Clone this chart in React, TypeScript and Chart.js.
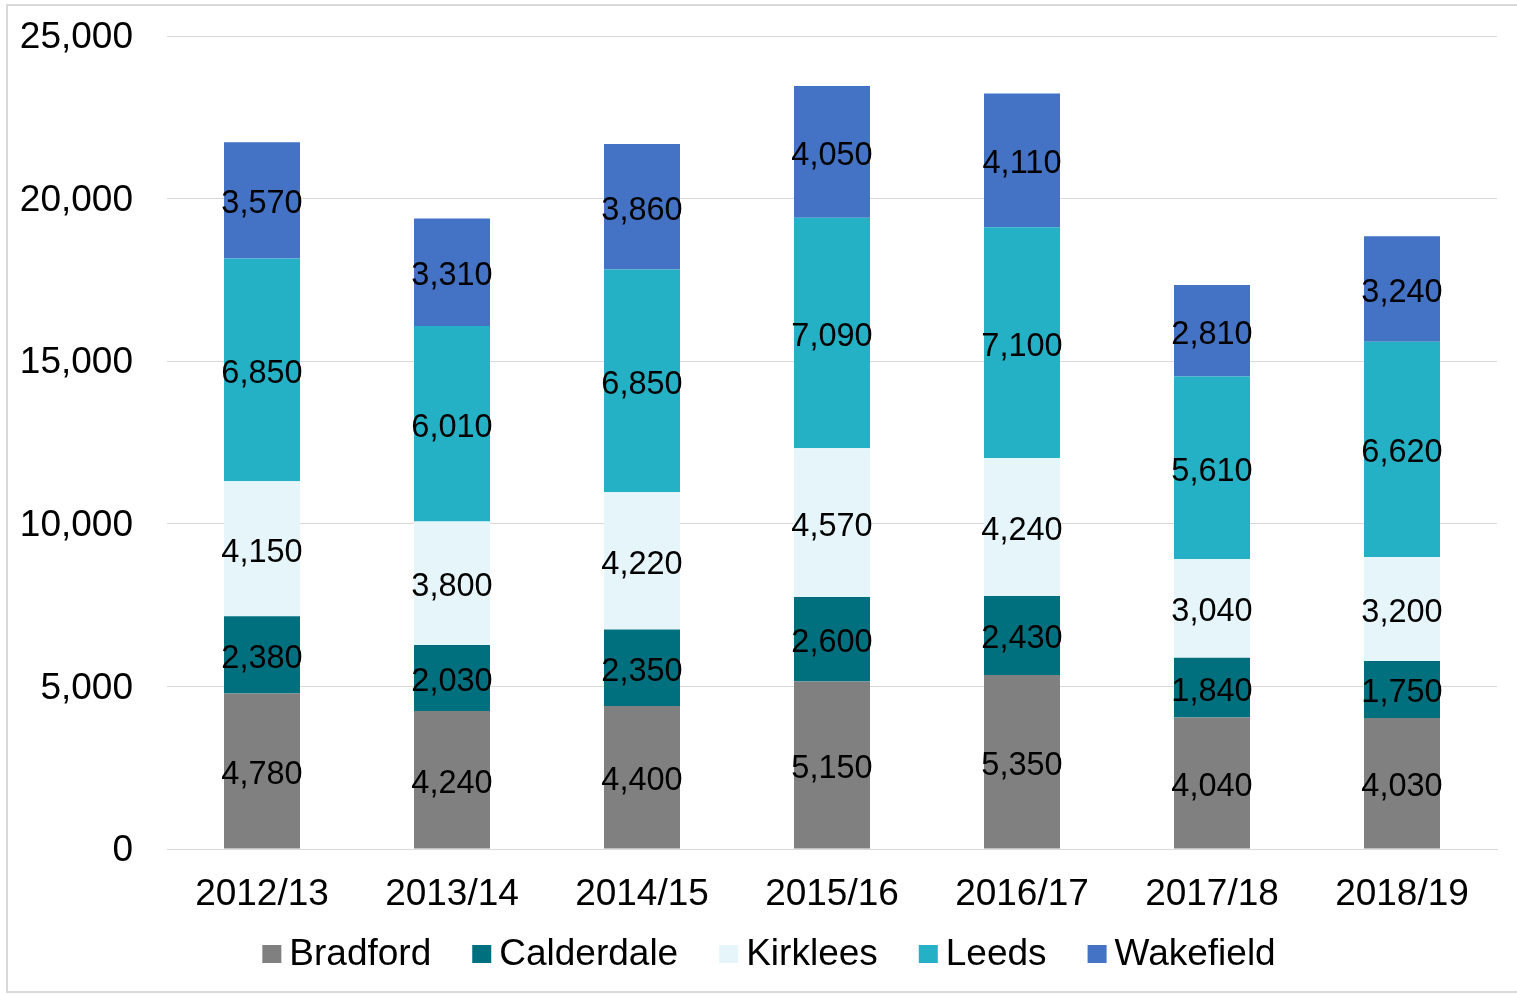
import React, { useEffect, useRef } from "react";
import { Chart, registerables } from "chart.js";

Chart.register(...registerables);

const categories = ["2012/13", "2013/14", "2014/15", "2015/16", "2016/17", "2017/18", "2018/19"];
const bradford = [4780, 4240, 4400, 5150, 5350, 4040, 4030];
const calderdale = [2380, 2030, 2350, 2600, 2430, 1840, 1750];
const kirklees = [4150, 3800, 4220, 4570, 4240, 3040, 3200];
const leeds = [6850, 6010, 6850, 7090, 7100, 5610, 6620];
const wakefield = [3570, 3310, 3860, 4050, 4110, 2810, 3240];
const seriesNames = ["Bradford", "Calderdale", "Kirklees", "Leeds", "Wakefield"];
const seriesColors = ["#808080", "#00707F", "#E6F5F9", "#24B1C5", "#4472C4"];
const yTicks = [0, 5000, 10000, 15000, 20000, 25000];

const FONT = "'Liberation Sans', Arial, sans-serif";

const fmt = (v: number) => v.toLocaleString("en-US");

const labelsPlugin = {
  id: "segLabels",
  afterDatasetsDraw(chart: any) {
    const ctx = chart.ctx;
    ctx.save();
    ctx.font = `32.5px ${FONT}`;
    ctx.fillStyle = "#000";
    ctx.textAlign = "center";
    ctx.textBaseline = "middle";
    chart.data.datasets.forEach((ds: any, di: number) => {
      const meta = chart.getDatasetMeta(di);
      meta.data.forEach((bar: any, i: number) => {
        const y = (bar.y + bar.base) / 2;
        ctx.fillText(fmt(ds.data[i]), bar.x, y + 4);
      });
    });
    ctx.restore();
  },
};

const frameLegendPlugin = {
  id: "frameLegend",
  beforeDraw(chart: any) {
    const ctx = chart.ctx;
    ctx.save();
    ctx.fillStyle = "#fff";
    ctx.fillRect(0, 0, chart.width, chart.height);
    ctx.strokeStyle = "#D9D9D9";
    ctx.lineWidth = 2;
    ctx.strokeRect(7, 5, chart.width + 10, 987);
    ctx.restore();
  },
  afterDraw(chart: any) {
    const ctx = chart.ctx;
    ctx.save();
    ctx.font = `37px ${FONT}`;
    ctx.textBaseline = "middle";
    ctx.textAlign = "left";
    const box = 19;
    const gap = 8;
    const spacing = 41;
    const widths = seriesNames.map((n) => box + gap + ctx.measureText(n).width);
    const total = widths.reduce((a, b) => a + b, 0) + spacing * (seriesNames.length - 1);
    let x = 769 - total / 2;
    const cy = 954;
    seriesNames.forEach((n, i) => {
      ctx.fillStyle = seriesColors[i];
      ctx.fillRect(x, cy - 9, box, 18);
      ctx.fillStyle = "#000";
      ctx.fillText(n, x + box + gap, cy + 1);
      x += widths[i] + spacing;
    });
    ctx.restore();
  },
};

export default function App() {
  const ref = useRef<HTMLCanvasElement>(null);
  useEffect(() => {
    if (!ref.current) return;
    const all = [bradford, calderdale, kirklees, leeds, wakefield];
    const chart = new Chart(ref.current, {
      type: "bar",
      data: {
        labels: categories,
        datasets: all.map((d, i) => ({
          label: seriesNames[i],
          data: d,
          backgroundColor: seriesColors[i],
          borderWidth: 0,
          barPercentage: 0.4,
          categoryPercentage: 1,
        })),
      },
      options: {
        animation: false,
        responsive: false,
        maintainAspectRatio: false,
        layout: { padding: { left: 0, right: 20, top: 36, bottom: 0 } },
        plugins: { legend: { display: false }, tooltip: { enabled: false } },
        scales: {
          x: {
            stacked: true,
            grid: { display: false, drawTicks: false },
            border: { display: true, color: "#D9D9D9", width: 1 },
            ticks: { font: { size: 37, family: FONT }, color: "#000", padding: 24, maxRotation: 0 },
            afterFit: (s: any) => {
              s.height = 145;
              s.paddingLeft = 0;
              s.paddingRight = 0;
            },
          },
          y: {
            stacked: true,
            min: 0,
            max: 25000,
            afterBuildTicks: (s: any) => {
              s.ticks = yTicks.map((v) => ({ value: v }));
            },
            grid: { color: "#D9D9D9", drawTicks: false, lineWidth: 1 },
            border: { display: false },
            ticks: {
              font: { size: 37, family: FONT },
              color: "#000",
              padding: 34,
              labelOffset: 2,
              callback: (v: any) => fmt(Number(v)),
            },
            afterFit: (s: any) => {
              s.width = 167;
              s.paddingTop = 0;
              s.paddingBottom = 0;
            },
          },
        },
      },
      plugins: [labelsPlugin, frameLegendPlugin],
    });
    return () => chart.destroy();
  }, []);
  return (
    <div style={{ position: "absolute", left: 0, top: 0, width: 1517, height: 994 }}>
      <canvas ref={ref} width={1517} height={994} style={{ display: "block" }} />
    </div>
  );
}
